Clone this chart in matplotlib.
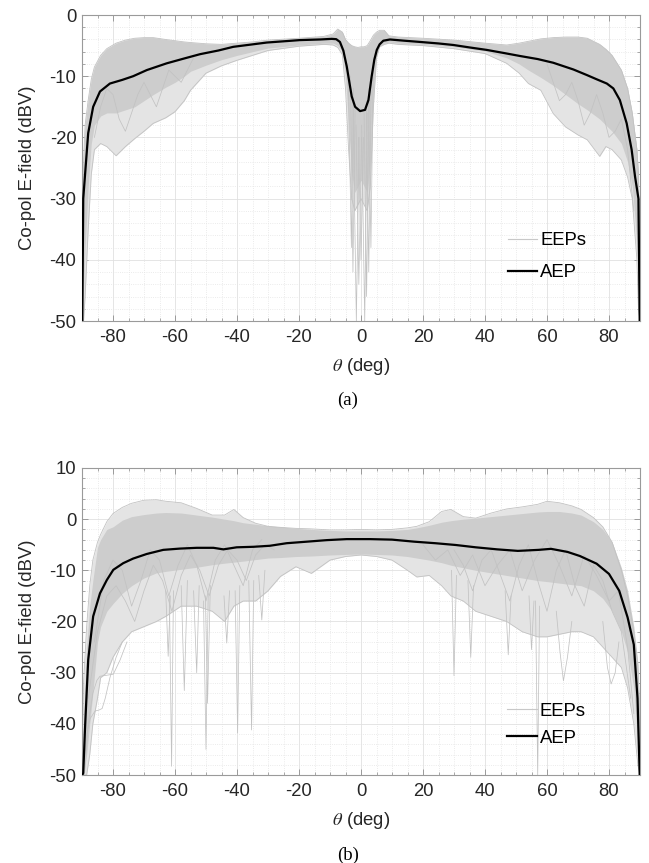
import matplotlib
matplotlib.use("Agg")
import matplotlib.pyplot as plt
from matplotlib.ticker import MultipleLocator
from matplotlib.lines import Line2D

plt.rcParams['font.family'] = ['Liberation Sans', 'DejaVu Sans']
plt.rcParams['mathtext.fontset'] = 'stix'
plt.rcParams['axes.unicode_minus'] = False

# ---------------- panel (a) data ----------------
theta_a_env = [-90, -89.5, -89, -88, -87, -86, -84, -82, -79, -76,
               -73, -70, -67, -63, -60, -57, -55, -50, -45, -40,
               -35, -30, -20, -12, -9, -7.5, -6, -5, -4, -3,
               -2, -1, 0, 1, 2, 3, 4, 5, 6, 7.5,
               9, 12, 20, 30, 40, 47, 51, 54, 58, 62,
               66, 70, 73, 77, 79, 81, 84, 86, 87.5, 89,
               89.5, 90]
eep_a_upper = [-45, -24, -18, -13.9, -10.5, -8.5, -6.6, -5.5, -4.6, -4.1,
               -3.8, -3.7, -3.7, -4.0, -4.2, -4.4, -4.5, -4.7, -4.8, -4.6,
               -4.4, -4.1, -3.8, -3.5, -3.1, -2.3, -2.8, -4.0, -4.6, -5.0,
               -5.2, -5.3, -5.2, -5.2, -5.0, -4.2, -3.3, -2.8, -2.5, -2.5,
               -3.4, -3.6, -3.8, -4.1, -4.6, -4.9, -4.6, -4.3, -3.9, -3.7,
               -3.6, -3.6, -3.8, -4.8, -5.6, -6.6, -9.0, -12, -16, -22,
               -26, -45]
eep_a_lower = [-50, -50, -46, -35, -26, -22, -21, -21.5, -23, -21.5,
               -20.2, -19, -17.7, -16.8, -15.8, -14, -12.3, -9.5, -8.3, -7.4,
               -6.6, -5.8, -5.1, -4.8, -4.9, -5.3, -6.5, -12, -22, -30,
               -32, -31, -30, -31, -32, -28, -15, -7, -5.2, -4.8,
               -4.6, -4.8, -5.0, -5.5, -6.3, -7.9, -9.5, -11.2, -12.3, -16.1,
               -18.3, -19.6, -20.4, -23.1, -21.5, -22, -23.7, -26.5, -30, -40,
               -48, -50]
eep_a_core_lower = [-50, -45, -38, -28, -21, -18, -16.5, -16, -16, -15.5,
                    -15, -14, -13, -11.8, -11, -10, -9.2, -8.2, -7.3, -6.6,
                    -6.0, -5.4, -4.9, -4.6, -4.6, -5.0, -6.0, -10, -18, -26,
                    -29, -28, -27, -28, -29, -24, -12, -6.5, -5.0, -4.6,
                    -4.4, -4.6, -4.8, -5.2, -5.9, -7.0, -8, -9, -10.2, -11.5,
                    -13, -14.5, -15.5, -17, -18, -19, -21, -24, -28, -37,
                    -44, -50]

eep_a_lines = [
    ([-4.2, -3.1, -2.4], [-8, -38, -12]),
    ([-3.4, -2.6, -1.9], [-10, -42, -15]),
    ([-2.6, -1.5, -0.6], [-14, -50, -20]),
    ([-1.6, -0.7, 0.2], [-18, -44, -20]),
    ([-0.8, 0.0, 0.8], [-20, -40, -20]),
    ([0.2, 1.2, 2.0], [-18, -50, -16]),
    ([1.0, 1.8, 2.6], [-16, -46, -14]),
    ([1.7, 2.5, 3.3], [-14, -42, -10]),
    ([2.4, 3.2, 4.0], [-12, -38, -7]),
    ([-86, -84, -82, -80, -78, -76, -74, -72, -70, -68, -66, -64, -62, -60, -58, -56, -54],
     [-20, -15, -12, -13, -17, -19, -16, -13, -11, -13, -15, -12, -9, -10, -11, -9, -7]),
    ([60, 62, 64, 66, 68, 70, 72, 74, 76, 78, 80, 82, 84, 86, 88],
     [-8, -11, -14, -13, -11, -14, -18, -16, -13, -16, -20, -19, -17, -22, -32]),
]

theta_a_aep = [-89.9, -89.75, -89.6, -88.0, -86.4, -84.2, -81.0, -77, -73.5, -69.1,
               -62.7, -57, -51.9, -46, -41.2, -35, -30.4, -25, -19.7, -13.2,
               -9.45, -8, -6.8, -5.7, -4.6, -3.0, -1.9, -0.3, 1.3, 2.4,
               3.45, 4.3, 5.1, 6, 7.2, 9.35, 14, 19, 25, 29.8,
               35, 40.5, 46, 51.3, 57, 62, 68.5, 72.8, 76, 79.3,
               81.4, 83.5, 85.7, 87.3, 88.4, 89.5, 89.9]
aep_a = [-50, -40, -30, -19.3, -15, -12.5, -11.2, -10.6, -10, -9,
         -7.9, -7.1, -6.4, -5.8, -5.2, -4.8, -4.5, -4.3, -4.1, -4.0,
         -3.9, -3.95, -4.4, -5.8, -8.4, -13.3, -15.0, -15.7, -15.5, -13.9,
         -10, -7.3, -5.7, -4.8, -4.2, -4.0, -4.2, -4.4, -4.65, -4.9,
         -5.3, -5.7, -6.2, -6.7, -7.2, -7.8, -8.9, -9.8, -10.5, -11.2,
         -12, -13.9, -17.7, -22, -26.4, -30, -50]

# ---------------- panel (b) data ----------------
theta_b_env = [-90, -89.5, -88.5, -87.5, -86.5, -85, -84, -82, -80, -77,
               -74, -70, -66, -63, -58, -53, -48, -44, -41, -38,
               -34, -30, -26, -21, -16, -10, -5, 0, 5, 10,
               15, 18, 22, 26, 29, 33, 37, 42, 47, 52,
               57, 60, 64, 68, 71, 75, 78, 81, 84, 86,
               88, 89.3, 90]
eep_b_upper = [-50, -32, -21, -13, -8, -4.5, -3, -0.5, 1.1, 2.3,
               3.1, 3.7, 3.8, 3.5, 3.2, 2.1, 0.8, 0.8, 1.9, 0.3,
               -0.8, -1.4, -1.6, -1.8, -1.9, -2.1, -2.1, -2.0, -2.1, -2.0,
               -1.7, -1.4, -0.5, 1.5, 1.9, 0.5, 0.2, 1.2, 2.0, 2.4,
               2.9, 3.5, 3.2, 2.6, 1.9, 0.3, -1.5, -4.5, -10, -15,
               -22, -28.5, -40]
eep_b_lower = [-50, -50, -50, -46, -40, -35, -31, -30, -27, -24,
               -22, -21, -20, -19, -17, -17, -18, -20, -17, -16,
               -16, -14, -11.2, -9.3, -10.6, -8, -7.3, -7, -7.3, -8,
               -10, -11.3, -11, -13, -15, -16, -18, -19, -20, -22,
               -23, -23, -22.5, -22, -22, -23, -25, -27, -29, -33,
               -40, -48, -50]
eep_b_core_upper = [-50, -40, -25, -17, -12, -5.5, -4, -2, -1.5, -0.2,
                    0.5, 0.9, 1.2, 1.3, 1.2, 0.8, 0.4, 0.0, -0.3, -0.7,
                    -1.0, -1.3, -1.5, -1.8, -2.0, -2.2, -2.3, -2.3, -2.3, -2.2,
                    -2.0, -1.7, -1.2, -0.6, -0.3, 0.0, 0.2, 0.5, 0.8, 1.1,
                    1.4, 1.5, 1.5, 1.2, 0.8, -0.5, -2.0, -4.5, -9.5, -14,
                    -21, -28, -40]
eep_b_core_lower = [-50, -50, -46, -40, -34, -24, -21, -18, -16.5, -14.5,
                    -13, -11.5, -10.5, -10.2, -9.8, -9.4, -8.9, -8.6, -8.4, -8.2,
                    -7.9, -7.6, -7.5, -7.3, -7.2, -7.0, -6.9, -6.8, -6.9, -7.0,
                    -7.3, -7.6, -8.0, -8.5, -9.0, -9.5, -10, -10.5, -11, -11.5,
                    -12, -12.2, -12.5, -12.8, -13, -14, -15.5, -18, -22, -26,
                    -33, -44, -50]

eep_b_lines = [
    ([-63.0, -62.2, -61.5], [-14, -26.8, -15]),
    ([-61.8, -61.1, -60.5], [-15, -48.3, -14]),
    ([-58.0, -57.0, -56.0], [-13, -33.5, -12]),
    ([-54.0, -53.0, -52.2], [-14, -30, -13]),
    ([-50.8, -50.0, -49.3], [-16, -45, -15]),
    ([-50.2, -49.5, -48.6], [-15, -36, -13]),
    ([-44.2, -43.3, -42.4], [-15, -24.2, -14]),
    ([-40.6, -39.8, -39.1], [-14, -41.8, -13]),
    ([-36.2, -35.3, -34.6], [-12, -41.2, -12]),
    ([-33.0, -32.0, -31.0], [-11, -19.7, -10]),
    ([29.2, 30.0, 30.8], [-10, -30.6, -11]),
    ([34.5, 35.4, 36.3], [-12, -27, -13]),
    ([46.5, 47.5, 48.4], [-14, -26.5, -15]),
    ([54.2, 55.0, 55.8], [-15, -25.5, -16]),
    ([56.3, 57.0, 57.6], [-16, -50, -17]),
    ([63.0, 64.2, 65.3, 66.6, 68.0], [-18, -26, -31.6, -27, -20]),
    ([78.0, 79.5, 80.7, 82.0, 83.2], [-20, -29, -32.2, -30, -24]),
    ([-89.6, -88.5, -87.4, -85.8, -84.5, -83.5, -82.5, -81, -79, -77],
     [-50, -42, -39, -37.5, -37.3, -37, -35, -31, -27, -24]),
    ([-89.2, -88, -86.5, -85.2, -84.2, -82, -79.9, -77.7, -75.5],
     [-50, -40, -34, -31.5, -30.7, -30.5, -30.3, -27.5, -24]),
    ([-88, -85, -82, -79, -76, -73, -70, -67, -64, -61, -58, -55, -52, -49, -46, -43, -40, -37, -34, -31, -28],
     [-35, -22, -15, -13, -16, -20, -14, -9, -12, -18, -11, -7, -10, -15, -9, -6, -8, -12, -7, -5, -6]),
    ([-86, -83, -80, -77, -74, -71, -68, -65, -62, -59, -56, -53, -50, -47, -44, -41, -38, -35, -32],
     [-24, -12, -8, -10, -17, -12, -6, -8, -15, -9, -5, -9, -16, -8, -5, -9, -13, -6, -4]),
    ([30, 33, 36, 39, 42, 45, 48, 51, 54, 57, 60, 63, 66, 69, 72, 75, 78, 81, 84, 87],
     [-6, -9, -14, -8, -6, -11, -16, -9, -5, -12, -18, -10, -6, -13, -17, -9, -12, -18, -22, -35]),
    ([20, 24, 28, 32, 36, 40, 44, 48, 52, 56, 60, 64, 68, 72, 76, 80, 83, 86, 88],
     [-5, -8, -6, -11, -7, -13, -9, -6, -14, -8, -4, -9, -15, -7, -11, -16, -14, -25, -38]),
]

theta_b_aep = [-89.9, -89.6, -89.0, -88.0, -86.4, -84.2, -82.0, -79.9, -76.7, -73.5,
               -69.1, -63.8, -58.4, -53.0, -47.6, -44.4, -40.1, -34.7, -29.4, -24.0,
               -17.5, -11.1, -4.6, 0, 2.9, 10, 17.2, 24, 30.6, 37,
               43.9, 50.6, 57.3, 61.3, 66.6, 70.6, 76, 80, 83.3, 86,
               88, 89.2, 89.9]
aep_b = [-50, -49.6, -40.5, -27.5, -19, -14.5, -11.9, -9.9, -8.6, -7.7,
         -6.8, -6.0, -5.75, -5.6, -5.6, -5.9, -5.5, -5.4, -5.2, -4.7,
         -4.4, -4.1, -3.9, -3.9, -3.9, -4.0, -4.4, -4.7, -5.05, -5.5,
         -5.9, -6.2, -6.0, -5.8, -6.4, -7.2, -8.7, -10.7, -14, -19.2,
         -24.5, -35, -50]

xticks = [-80, -60, -40, -20, 0, 20, 40, 60, 80]
yticks_a = [-50, -40, -30, -20, -10, 0]
yticks_b = [-50, -40, -30, -20, -10, 0, 10]

EEP_COLOR = '#c2c2c2'
AXIS_COLOR = '#9a9a9a'


def draw_panel(ax, th, up, lo, core_up, core_lo, lines, th_aep, aep):
    ax.fill_between(th, lo, up, color='#e4e4e4', lw=0, zorder=1)
    ax.fill_between(th, core_lo, core_up, color='#cdcdcd', lw=0, zorder=1.1)
    ax.plot(th, up, color=EEP_COLOR, lw=0.6, zorder=1.2)
    ax.plot(th, lo, color=EEP_COLOR, lw=0.6, zorder=1.2)
    for t, v in lines:
        ax.plot(t, v, color=EEP_COLOR, lw=0.55, zorder=1.3)
    ax.plot(th_aep, aep, color='black', lw=1.6, zorder=3)


def style_axes(ax, yticks, ylim, leg_anchor, spacing):
    ax.set_xlim(-90, 90)
    ax.set_ylim(ylim)
    ax.set_xticks(xticks)
    ax.set_yticks(yticks)
    ax.xaxis.set_minor_locator(MultipleLocator(5))
    ax.yaxis.set_minor_locator(MultipleLocator(2))
    ax.grid(which='major', color='#e0e0e0', lw=0.6)
    ax.grid(which='minor', color='#e4e4e4', lw=0.6, ls=':')
    ax.set_axisbelow(True)
    ax.tick_params(which='both', direction='in', top=True, right=True,
                   color=AXIS_COLOR, labelsize=13.3, labelcolor='#262626')
    ax.tick_params(which='major', length=4, width=0.7)
    ax.tick_params(which='minor', length=2.5, width=0.6)
    ax.tick_params(axis='x', pad=6)
    ax.tick_params(axis='y', pad=4)
    for s in ax.spines.values():
        s.set_color(AXIS_COLOR)
        s.set_linewidth(0.8)
    ax.set_xlabel(r'$\theta$ (deg)', fontsize=13.3, color='#262626')
    ax.set_ylabel('Co-pol E-field (dBV)', fontsize=13.3, color='#262626')
    ax.xaxis.set_label_coords(0.5, -0.115)
    ax.yaxis.set_label_coords(-0.083, 0.5)
    handles = [Line2D([], [], color='#c8c8c8', lw=0.8),
               Line2D([], [], color='black', lw=1.6)]
    ax.legend(handles, ['EEPs', 'AEP'], loc='upper left', bbox_to_anchor=leg_anchor,
              frameon=False, fontsize=13.3, handlelength=1.6, handletextpad=0.15,
              borderpad=0, borderaxespad=0, labelspacing=spacing)


fig = plt.figure(figsize=(6.49, 8.63), dpi=100)
ax_a = fig.add_axes([82 / 649, 1 - 321 / 863, 558 / 649, 306 / 863])
ax_b = fig.add_axes([82 / 649, 1 - 775 / 863, 558 / 649, 307 / 863])

draw_panel(ax_a, theta_a_env, eep_a_upper, eep_a_lower, eep_a_upper, eep_a_core_lower,
           eep_a_lines, theta_a_aep, aep_a)
draw_panel(ax_b, theta_b_env, eep_b_upper, eep_b_lower, eep_b_core_upper, eep_b_core_lower,
           eep_b_lines, theta_b_aep, aep_b)

style_axes(ax_a, yticks_a, (-50, 0), (0.763, 0.29), 0.82)
style_axes(ax_b, yticks_b, (-50, 10), (0.762, 0.236), 0.55)

fig.text(348 / 649, 1 - 400 / 863, '(a)', family='Liberation Serif', fontsize=13.5,
         ha='center', va='center')
fig.text(348 / 649, 1 - 855 / 863, '(b)', family='Liberation Serif', fontsize=13.5,
         ha='center', va='center')

fig.savefig('out.png', dpi=100)
